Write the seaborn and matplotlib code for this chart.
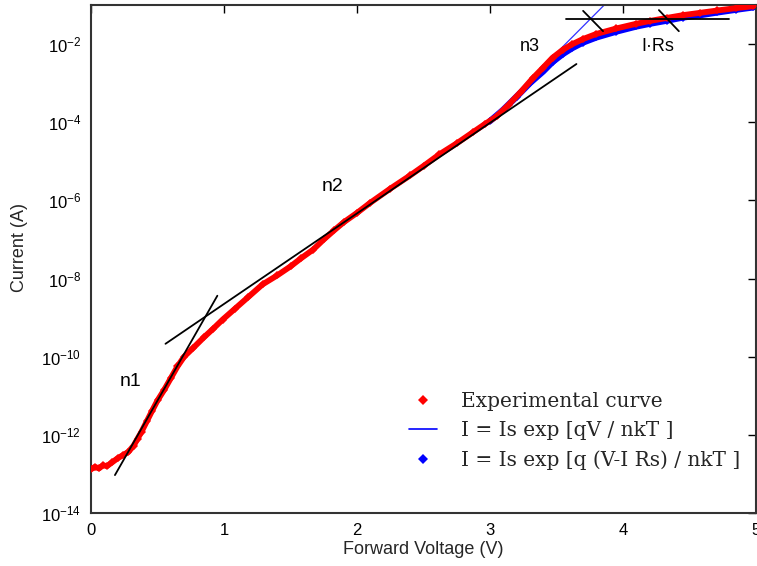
import numpy as np
import pandas as pd
import matplotlib
matplotlib.use("Agg")
import matplotlib.pyplot as plt
from matplotlib.lines import Line2D
import seaborn as sns

# experimental I-V curve: voltage (V) and log10 of current (A)
exp_voltage = [0.00, 0.03, 0.06, 0.09, 0.12, 0.16, 0.20, 0.24, 0.28, 0.32,
               0.35, 0.38, 0.42, 0.46, 0.50, 0.55, 0.60, 0.65, 0.70, 0.77,
               0.85, 0.92, 0.99, 1.08, 1.18, 1.29, 1.40, 1.50, 1.58, 1.67,
               1.75, 1.83, 1.90, 2.00, 2.10, 2.25, 2.40, 2.50, 2.62, 2.75,
               2.87, 2.96, 3.05, 3.14, 3.23, 3.32, 3.40, 3.47, 3.55, 3.62,
               3.70, 3.80, 3.95, 4.10, 4.20, 4.33, 4.45, 4.58, 4.71, 4.85, 4.98]
exp_log_current = [-12.88, -12.82, -12.86, -12.78, -12.80, -12.70, -12.60, -12.52, -12.44, -12.28,
                   -12.10, -11.92, -11.65, -11.38, -11.12, -10.85, -10.55, -10.25, -10.00, -9.77,
                   -9.50, -9.28, -9.05, -8.78, -8.48, -8.15, -7.92, -7.69, -7.48, -7.26,
                   -7.00, -6.76, -6.56, -6.32, -6.06, -5.70, -5.36, -5.12, -4.82, -4.54,
                   -4.26, -4.05, -3.85, -3.55, -3.23, -2.88, -2.60, -2.35, -2.14, -2.00,
                   -1.87, -1.74, -1.60, -1.48, -1.41, -1.33, -1.26, -1.20, -1.14, -1.08, -1.03]

# fit including series resistance (blue diamonds)
fit_rs_voltage = [3.00, 3.10, 3.20, 3.30, 3.40, 3.47, 3.55, 3.62, 3.70, 3.80,
                  3.95, 4.10, 4.20, 4.33, 4.45, 4.58, 4.71, 4.85, 4.98]
fit_rs_log_current = [-3.97, -3.68, -3.35, -3.00, -2.70, -2.46, -2.25, -2.10, -1.96, -1.83,
                      -1.68, -1.55, -1.48, -1.40, -1.32, -1.26, -1.19, -1.12, -1.06]

# ideal exponential fit (thin blue line)
fit_ideal_voltage = [3.00, 3.47, 3.90]
fit_ideal_log_current = [-3.93, -2.33, -0.86]

# black construction lines
n1_voltage = [0.18, 0.95]
n1_log_current = [-13.03, -8.44]
n2_voltage = [0.56, 3.65]
n2_log_current = [-9.67, -2.51]
sat_voltage = [3.57, 4.80]
sat_log_current = [-1.36, -1.36]
cross1_voltage = [3.70, 3.85]
cross1_log_current = [-1.15, -1.67]
cross2_voltage = [4.27, 4.42]
cross2_log_current = [-1.13, -1.67]

# text labels on the plot
labels = ["n1", "n2", "n3", "I\u00b7Rs"]
label_voltage = [0.30, 1.82, 3.30, 4.26]
label_log_current = [-10.64, -5.64, -2.05, -2.05]
label_sizes = [14, 14, 13, 13]

legend_labels = ["Experimental curve",
                 "I = Is exp [qV / nkT ]",
                 "I = Is exp [q (V-I Rs) / nkT ]"]

exp_df = pd.DataFrame({"V": exp_voltage, "I": np.power(10.0, exp_log_current)})
rs_df = pd.DataFrame({"V": fit_rs_voltage, "I": np.power(10.0, fit_rs_log_current)})
ideal_df = pd.DataFrame({"V": fit_ideal_voltage, "I": np.power(10.0, fit_ideal_log_current)})

sns.set_style("white")
plt.rcParams["font.family"] = ["Liberation Sans", "DejaVu Sans"]

fig = plt.figure(figsize=(7.57, 5.66), dpi=100)
ax = fig.add_axes([91 / 757, 53 / 566, 665 / 757, 508 / 566])
ax.set_yscale("log")

red = "#ff0000"
blue = "#0000ff"

# blue fit with Rs sits just under the red data
sns.lineplot(data=rs_df, x="V", y="I", ax=ax, color=blue, lw=4.5, sort=False,
             estimator=None, marker="D", markersize=4.5, markeredgewidth=0, zorder=2)
sns.lineplot(data=ideal_df, x="V", y="I", ax=ax, color="#3030ff", lw=0.9, sort=False,
             estimator=None, zorder=2)
sns.lineplot(data=exp_df, x="V", y="I", ax=ax, color=red, lw=4.2, sort=False,
             estimator=None, marker="D", markersize=4.5, markeredgewidth=0, zorder=3)

for vx, ly in [(n1_voltage, n1_log_current), (n2_voltage, n2_log_current),
               (sat_voltage, sat_log_current), (cross1_voltage, cross1_log_current),
               (cross2_voltage, cross2_log_current)]:
    ax.plot(vx, np.power(10.0, ly), color="black", lw=1.3, zorder=4)

for txt, vx, ly, fs in zip(labels, label_voltage, label_log_current, label_sizes):
    ax.text(vx, 10 ** ly, txt, fontsize=fs, ha="center", va="center", color="black")

ax.set_xlim(0, 5)
ax.set_ylim(1e-14, 1e-1)
ax.set_xticks([0, 1, 2, 3, 4, 5])
ax.set_yticks([1e-14, 1e-12, 1e-10, 1e-8, 1e-6, 1e-4, 1e-2])
ax.yaxis.set_minor_locator(matplotlib.ticker.NullLocator())
ax.tick_params(direction="in", length=6, width=1, top=True, right=True,
               labelsize=12, pad=7, colors="black")
ax.set_xlabel("Forward Voltage (V)", fontsize=13, labelpad=2)
ax.set_ylabel("Current (A)", fontsize=13)
ax.yaxis.set_label_coords((28 - 91) / 665, (513 - 247) / 508)
for sp in ax.spines.values():
    sp.set_color("#333333")
    sp.set_linewidth(1.5)

handles = [
    Line2D([], [], color=red, marker="D", markersize=5, lw=0, markeredgewidth=0),
    Line2D([], [], color=blue, lw=1.2),
    Line2D([], [], color=blue, marker="D", markersize=5, lw=0, markeredgewidth=0),
]
ax.legend(handles, legend_labels, loc="upper left",
          bbox_to_anchor=((409 - 91) / 665, (513 - 392) / 508),
          frameon=False, borderpad=0, borderaxespad=0, handlelength=1.4,
          handletextpad=1.2, labelspacing=0.5,
          prop={"family": "DejaVu Serif", "size": 14.5})

fig.savefig("out.png", dpi=100)
